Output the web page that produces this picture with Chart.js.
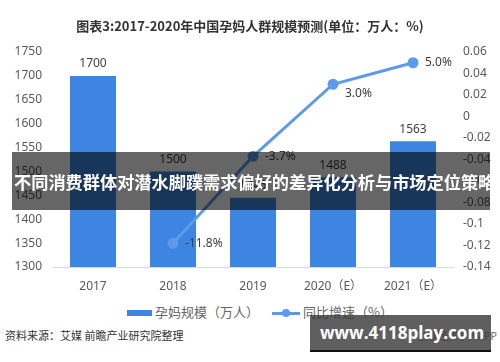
<!DOCTYPE html>
<html><head><meta charset="utf-8">
<script src="https://cdn.jsdelivr.net/npm/chart.js@4"></script>
<style>
html,body{margin:0;padding:0;background:#fff;}
#wrap{position:relative;width:500px;height:362px;overflow:hidden;font-family:"Noto Sans CJK SC","Noto Sans",sans-serif;}
#title{position:absolute;left:0;top:16px;width:500px;text-align:center;font-size:13px;font-weight:bold;color:#333;}
#c{position:absolute;left:0;top:0;}
.leg{position:absolute;top:302px;font-size:13px;color:#666;white-space:nowrap;}
#src{position:absolute;left:5px;top:327px;font-size:11px;color:#333;}
#app{position:absolute;left:418px;top:328px;font-size:10px;color:#666;}
#band{position:absolute;left:12px;top:152px;width:478px;height:58px;background:rgba(0,0,0,0.6);overflow:hidden;}
#band span{position:absolute;left:2px;top:17px;color:#fff;font-size:17.2px;font-weight:bold;white-space:nowrap;letter-spacing:0px;}
#box{position:absolute;left:310px;top:315px;width:181px;height:35px;background:rgba(60,60,60,0.82);border-bottom:2px solid #111;}
#box span{position:absolute;left:10px;top:6px;color:#fff;font-size:17px;font-weight:bold;font-family:"Open Sans","Noto Sans",sans-serif;}
</style></head>
<body><div id="wrap">
<canvas id="c" width="500" height="300"></canvas>
<div id="title">图表3:2017-2020年中国孕妈人群规模预测(单位：万人：%)</div>
<div class="leg" style="left:127px;"><span style="display:inline-block;width:25px;height:6px;background:#3d85e0;vertical-align:middle;margin-right:3px;"></span>孕妈规模（万人）</div>
<div class="leg" style="left:272px;"><span style="display:inline-block;position:relative;width:28px;height:12px;vertical-align:middle;margin-right:3px;"><span style="position:absolute;left:0;top:5px;width:28px;height:2.5px;background:#5b9be9;"></span><span style="position:absolute;left:10px;top:2px;width:8px;height:8px;border-radius:50%;background:#5b9be9;"></span></span>同比增速（%）</div>
<div id="src">资料来源：艾媒 前瞻产业研究院整理</div>
<div id="app">前瞻经济学人APP</div>
<div id="band"><span>不同消费群体对潜水脚蹼需求偏好的差异化分析与市场定位策略研</span></div>
<div id="box"><span>www.4118play.com</span></div>
</div>
<script>
const categories = ["2017","2018","2019","2020（E）","2021（E）"];
const scaleValues = [1700,1500,1445,1488,1563];
const growthValues = [null,-11.8,-3.7,3.0,5.0];
const barLabels = ["1700","1500","1445","1488","1563"];
const growthLabels = ["","-11.8%","-3.7%","3.0%","5.0%"];
const leftTicks = [1300,1350,1400,1450,1500,1550,1600,1650,1700,1750];
const leftTickLabels = ["1300","1350","1400","1450","1500","1550","1600","1650","1700","1750"];
const rightTicks = [-0.14,-0.12,-0.1,-0.08,-0.06,-0.04,-0.02,0,0.02,0.04,0.06];
const rightTickLabels = ["-0.14","-0.12","-0.1","-0.08","-0.06","-0.04","-0.02","0","0.02","0.04","0.06"];

const labelPlugin = {
  id:'labels',
  afterDatasetsDraw(chart){
    const ctx = chart.ctx;
    ctx.save();
    ctx.font = '12px "Noto Sans","Noto Sans CJK SC",sans-serif';
    ctx.fillStyle = '#404040';
    const bm = chart.getDatasetMeta(0);
    bm.data.forEach((el,i)=>{
      ctx.textAlign='center'; ctx.textBaseline='bottom';
      ctx.fillText(barLabels[i], el.x, el.y-6);
    });
    const lm = chart.getDatasetMeta(1);
    const offs = [[0,0],[12,0],[12,0],[12,9],[12,0]];
    lm.data.forEach((el,i)=>{
      if(!growthLabels[i]) return;
      ctx.textAlign='left'; ctx.textBaseline='middle';
      ctx.fillText(growthLabels[i], el.x+offs[i][0], el.y+offs[i][1]);
    });
    ctx.restore();
  }
};

new Chart(document.getElementById('c'), {
  data:{
    labels:categories,
    datasets:[
      {type:'bar',data:scaleValues,backgroundColor:'#3d85e0',yAxisID:'y',barPercentage:0.575,categoryPercentage:1,order:2},
      {type:'line',data:growthValues.map(v=>v==null?null:v/100),borderColor:'#5b9be9',backgroundColor:'#5b9be9',borderWidth:3,pointRadius:4,pointHoverRadius:4,yAxisID:'y1',order:1,spanGaps:false}
    ]
  },
  options:{
    responsive:false,animation:false,
    layout:{padding:{top:52,left:0,right:0,bottom:0}},
    plugins:{legend:{display:false},tooltip:{enabled:false}},
    scales:{
      x:{grid:{display:false,drawTicks:false},border:{color:'#d9d9d9'},
         ticks:{color:'#595959',padding:12,font:{size:12,family:'"Noto Sans","Noto Sans CJK SC",sans-serif'}},
         afterFit(s){s.height=33;}},
      y:{position:'left',min:1300,max:1750,grid:{display:false,drawTicks:false},border:{display:false},
         afterBuildTicks(s){s.ticks=leftTicks.map(v=>({value:v}));},
         ticks:{color:'#595959',padding:11,font:{size:12,family:'"Noto Sans",sans-serif'},
           callback:(v,i)=>leftTickLabels[i]},
         afterFit(s){s.width=53;}},
      y1:{position:'right',min:-0.14,max:0.06,grid:{display:false,drawTicks:false},border:{display:false},
         afterBuildTicks(s){s.ticks=rightTicks.map(v=>({value:v}));},
         ticks:{color:'#595959',padding:10,font:{size:12,family:'"Noto Sans",sans-serif'},
           callback:(v,i)=>rightTickLabels[i]},
         afterFit(s){s.width=47;}}
    }
  },
  plugins:[labelPlugin]
});
</script>
</body></html>
